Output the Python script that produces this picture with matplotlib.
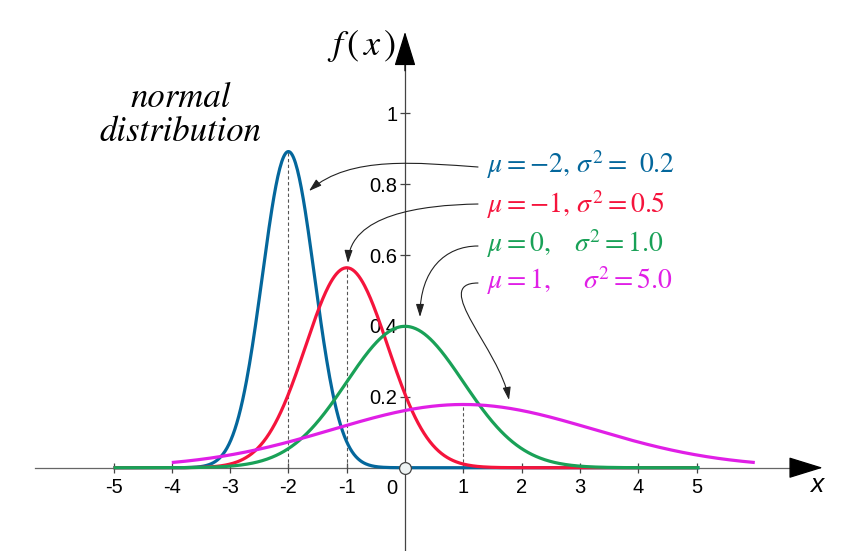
import numpy as np
import matplotlib
matplotlib.use("Agg")
import matplotlib.pyplot as plt
from matplotlib.path import Path
from matplotlib.patches import FancyArrowPatch

# ---- data ----
mus = [-2, -1, 0, 1]
variances = [0.2, 0.5, 1.0, 5.0]
x_starts = [-5.0, -5.0, -5.0, -4.0]
x_ends = [5.05, 5.0, 5.05, 6.0]
colors = ["#04679c", "#f5143c", "#19a157", "#e01fe6"]
label_texts = [r"$\mu = -2,\, \sigma^2 =\;\, 0.2$",
               r"$\mu = -1,\, \sigma^2 = 0.5$",
               r"$\mu = 0,\quad \sigma^2 = 1.0$",
               r"$\mu = 1,\quad\;\, \sigma^2 = 5.0$"]
xticks = [-5, -4, -3, -2, -1, 1, 2, 3, 4, 5]
yticks = [0.2, 0.4, 0.6, 0.8, 1.0]
ytick_labels = ["0.2", "0.4", "0.6", "0.8", "1"]

plt.rcParams["mathtext.fontset"] = "stix"

fig = plt.figure(figsize=(8.57, 5.51), dpi=100)
ax = fig.add_axes([0, 0, 1, 1])
ax.set_xlim(-6.947, 7.753)
ax.set_ylim(-0.235, 1.3197)

def pdf(x, m, v):
    return np.exp(-(x - m) ** 2 / (2 * v)) / np.sqrt(2 * np.pi * v)

zorders = [3, 4, 5, 6]
for m, v, a, b, c, z in zip(mus, variances, x_starts, x_ends, colors, zorders):
    xs = np.linspace(a, b, 600)
    ax.plot(xs, pdf(xs, m, v), color=c, lw=2.3, zorder=z, solid_capstyle="butt")
    if m != 0:
        ax.plot([m, m], [0, pdf(m, m, v)], color="#555555", lw=0.8,
                ls=(0, (3, 2.2)), zorder=2)

# axes as spines through the origin
axc = "#444444"
for s in ["top", "right"]:
    ax.spines[s].set_visible(False)
ax.spines["left"].set_position(("data", 0))
ax.spines["bottom"].set_position(("data", 0))
ax.spines["left"].set_bounds(-0.235, 1.19)
ax.spines["bottom"].set_bounds(-6.35, 7.0)
ax.spines["left"].set_color(axc)
ax.spines["bottom"].set_color("#666666")
ax.spines["left"].set_linewidth(0.9)
ax.spines["bottom"].set_linewidth(0.9)
ax.spines["left"].set_zorder(1)
ax.spines["bottom"].set_zorder(1)

ax.set_xticks(xticks)
ax.set_yticks(yticks)
ax.set_xticklabels([str(t) for t in xticks], fontsize=14.5,
                   family="Liberation Sans")
ax.set_yticklabels(ytick_labels, fontsize=14.5, family="Liberation Sans")
ax.tick_params(direction="inout", length=7, width=0.9, color=axc,
               labelcolor="black")
ax.tick_params(axis="x", pad=4)
ax.tick_params(axis="y", pad=2)
ax.text(-0.22, -0.058, "0", fontsize=14.5, family="Liberation Sans",
        ha="center", va="center")

# axis arrowheads
ax.annotate("", xy=(7.165, 0), xytext=(6.7, 0),
            arrowprops=dict(arrowstyle="-|>,head_length=1.1,head_width=0.34",
                            mutation_scale=20, color="black", lw=0.9,
                            shrinkA=0, shrinkB=0), zorder=7)
ax.annotate("", xy=(0, 1.230), xytext=(0, 1.12),
            arrowprops=dict(arrowstyle="-|>,head_length=1.1,head_width=0.34",
                            mutation_scale=20, color="black", lw=0.9,
                            shrinkA=0, shrinkB=0), zorder=7)

# origin marker
ax.plot(0, 0, "o", ms=8.5, mfc="#eef3f3", mec="#444444", mew=0.9, zorder=10,
        clip_on=False)

# axis labels
ax.text(-0.74, 1.19, r"$f\,\left(\,x\,\right)$", fontsize=26, ha="center",
        va="center")
ax.text(7.07, -0.05, "x", fontsize=19, family="Liberation Sans",
        style="italic", ha="center", va="center")
ax.text(-3.85, 0.995, "normal\ndistribution", fontsize=25,
        family="STIXGeneral", style="italic", ha="center", va="center",
        linespacing=1.05)

# parameter labels
label_y = [0.831, 0.718, 0.608, 0.504]
for t, c, yy in zip(label_texts, colors, label_y):
    ax.text(1.40, yy, t, color=c, fontsize=20, ha="left", va="baseline")

# connector arrows (pixel-derived data coordinates)
def px(xp, yp):
    return ((xp - 405) / 58.3, (467.7 - yp) / 354.4)

curves = [
    [(478, 167), (420, 163), (350, 155), (309, 191)],
    [(478, 204), (420, 205), (350, 215), (348, 263)],
    [(478, 246), (445, 246), (420, 270), (420, 317)],
    [(478, 283), (430, 283), (500, 350), (509, 400)],
]
for pts in curves:
    verts = [px(*p) for p in pts]
    path = Path(verts, [Path.MOVETO, Path.CURVE4, Path.CURVE4, Path.CURVE4])
    arr = FancyArrowPatch(path=path,
                          arrowstyle="-|>,head_length=0.7,head_width=0.22",
                          mutation_scale=11, color="#222222", lw=0.8,
                          zorder=8)
    ax.add_patch(arr)

fig.savefig("out.png", dpi=100)
